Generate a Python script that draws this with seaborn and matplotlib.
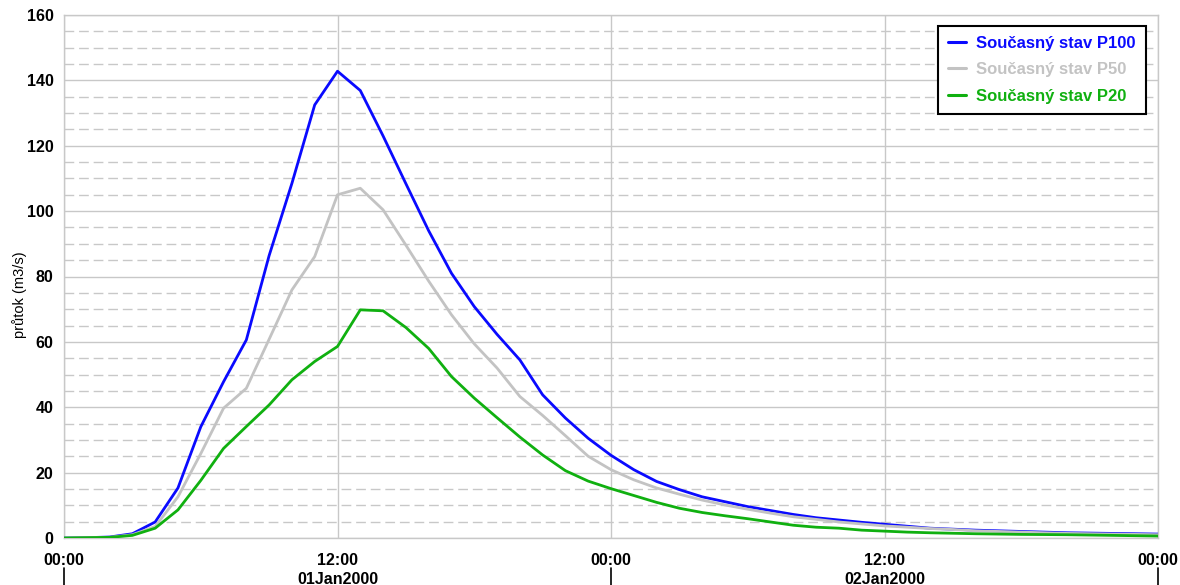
import numpy as np
import pandas as pd
import matplotlib
matplotlib.use("Agg")
import matplotlib.pyplot as plt
import matplotlib.dates as mdates
import matplotlib.transforms as mtransforms
from matplotlib.lines import Line2D
from matplotlib.ticker import MultipleLocator
import seaborn as sns

# Hourly hydrograph, 01 Jan 2000 00:00 .. 03 Jan 2000 00:00
start = "2000-01-01 00:00"
n_hours = 49

series_names = ["Současný stav P100", "Současný stav P50", "Současný stav P20"]
series_colors = ["#0a0aff", "#c3c3c3", "#10b010"]

q_p100 = [0.0, 0.1, 0.3, 1.3, 4.9, 15.3, 34.0, 47.8, 60.6, 86.4, 108.5, 132.5,
          142.8, 136.9, 123.0, 108.4, 94.0, 81.0, 70.8, 62.3, 54.5, 43.8, 36.7,
          30.5, 25.3, 20.9, 17.3, 14.8, 12.6, 11.1, 9.6, 8.4, 7.2, 6.2, 5.5,
          4.8, 4.2, 3.6, 3.0, 2.7, 2.4, 2.2, 2.0, 1.8, 1.6, 1.5, 1.4, 1.3, 1.2]
q_p50 = [0.0, 0.1, 0.2, 1.0, 3.5, 12.6, 25.8, 39.7, 45.8, 60.8, 75.9, 86.1,
         105.0, 107.0, 100.4, 89.6, 78.6, 68.3, 59.4, 52.0, 43.3, 37.5, 31.3,
         25.0, 20.9, 17.8, 15.3, 13.4, 11.6, 10.1, 8.8, 7.6, 6.5, 5.7, 4.9,
         4.3, 3.7, 3.3, 2.9, 2.6, 2.2, 2.0, 1.8, 1.6, 1.4, 1.3, 1.2, 1.1, 1.0]
q_p20 = [0.0, 0.1, 0.2, 0.8, 3.0, 8.6, 17.6, 27.4, 34.1, 40.7, 48.4, 54.0,
         58.6, 69.8, 69.5, 64.4, 58.0, 49.4, 42.8, 36.8, 30.9, 25.4, 20.6,
         17.4, 15.1, 13.0, 10.9, 9.1, 7.8, 6.8, 5.9, 4.9, 3.9, 3.3, 3.0,
         2.4, 2.1, 1.8, 1.6, 1.45, 1.3, 1.2, 1.1, 1.05, 1.0, 0.9, 0.8, 0.7, 0.6]

y_label = "průtok (m3/s)"
day_labels = ["01Jan2000", "02Jan2000"]

times = pd.date_range(start, periods=n_hours, freq="h")
frames = []
for name, q in zip(series_names, [q_p100, q_p50, q_p20]):
    frames.append(pd.DataFrame({"time": times, "flow": q, "series": name}))
df = pd.concat(frames, ignore_index=True)

sns.set_style("white")
plt.rcParams["font.family"] = ["Liberation Sans", "DejaVu Sans"]

fig = plt.figure(figsize=(11.8, 5.85), dpi=100)
ax = fig.add_axes([64 / 1180, 1 - 538 / 585, 1094 / 1180, 523 / 585])

grid_col = "#c8c8c8"
sns.lineplot(data=df, x="time", y="flow", hue="series", hue_order=series_names,
             palette=dict(zip(series_names, series_colors)), linewidth=2.0,
             ax=ax, legend=False, zorder=3)

ax.set_xlim(times[0], times[-1])
ax.set_ylim(0, 160)

# y axis: major every 20 (solid grid), minor every 5 (dashed grid)
ax.yaxis.set_major_locator(MultipleLocator(20))
ax.yaxis.set_minor_locator(MultipleLocator(5))
ax.grid(which="major", axis="y", color=grid_col, linewidth=1.0, linestyle="-", zorder=0)
ax.grid(which="minor", axis="y", color=grid_col, linewidth=1.0,
        linestyle=(0, (7, 3.5)), zorder=0)

# x axis: ticks every 12 hours
ax.xaxis.set_major_locator(mdates.HourLocator(byhour=[0, 12]))
ax.xaxis.set_major_formatter(mdates.DateFormatter("%H:%M"))
ax.grid(which="major", axis="x", color=grid_col, linewidth=1.0, zorder=0)

ax.tick_params(axis="both", which="major", direction="out", length=4.5, width=1,
               color="#555555", labelsize=11.5, labelcolor="black")
ax.tick_params(axis="y", which="major", pad=3.0)
ax.tick_params(axis="x", which="major", pad=6.0)
ax.tick_params(axis="y", which="minor", length=0)
for lab in ax.get_xticklabels() + ax.get_yticklabels():
    lab.set_fontweight("bold")

for sp in ax.spines.values():
    sp.set_visible(True)
    sp.set_color(grid_col)
    sp.set_linewidth(1.0)

ax.set_xlabel("")
ax.set_ylabel(y_label, fontsize=10.5, color="black")
ax.yaxis.set_label_coords(-0.034, 0.465)

# second row of the time axis: day names and day separators
trans = mtransforms.blended_transform_factory(ax.transData, ax.transAxes)
days = pd.date_range(times[0], times[-1], freq="D")
for d in days:
    xd = mdates.date2num(d)
    ax.add_line(Line2D([xd, xd], [-0.058, -0.095], transform=trans, color="black",
                       linewidth=1.2, clip_on=False))
for d, lab in zip(days[:-1], day_labels):
    xm = mdates.date2num(d + pd.Timedelta(hours=12))
    ax.text(xm, -0.079, lab, transform=trans, ha="center", va="center",
            fontsize=11.5, fontweight="bold", color="black")

# legend with coloured labels
handles = [Line2D([], [], color=c, linewidth=2.2) for c in series_colors]
leg = ax.legend(handles, series_names, loc="upper right",
                bbox_to_anchor=(0.989, 0.979), borderaxespad=0,
                fancybox=False, frameon=True, edgecolor="black",
                framealpha=1.0, handlelength=1.1, handletextpad=0.6,
                borderpad=0.6, labelspacing=0.68,
                prop={"weight": "bold", "size": 12})
leg.get_frame().set_linewidth(1.5)
for txt, c in zip(leg.get_texts(), series_colors):
    txt.set_color(c)
leg.set_zorder(5)

fig.savefig("out.png", dpi=100)
